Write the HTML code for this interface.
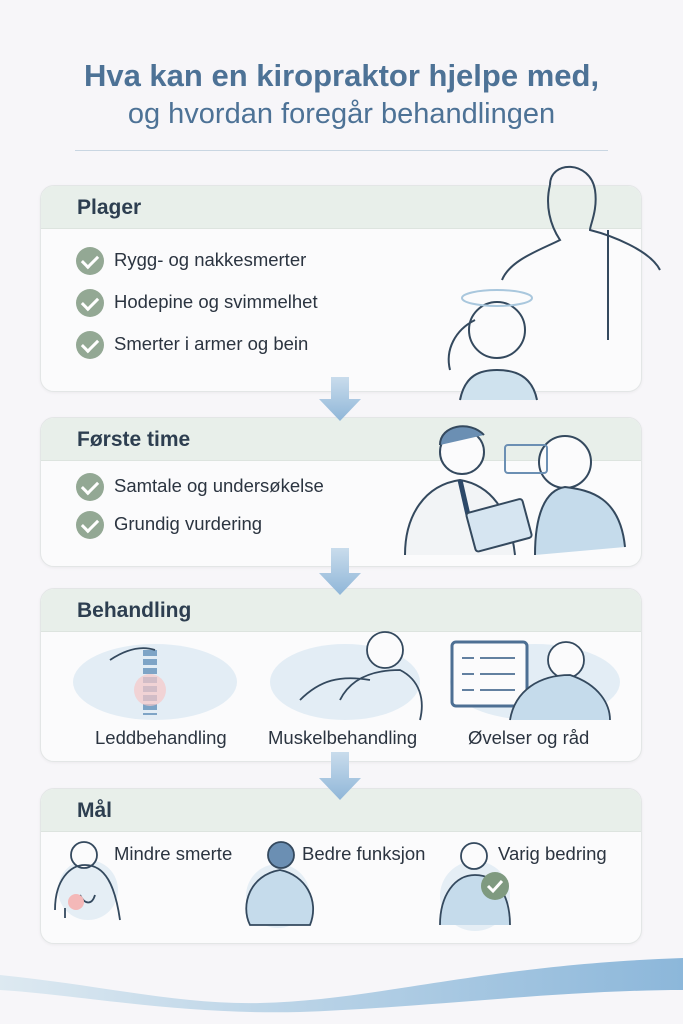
<!DOCTYPE html>
<html><head><meta charset="utf-8"><style>
body{margin:0;width:683px;height:1024px;background:#f7f6f9;font-family:"Liberation Sans",sans-serif;position:relative;overflow:hidden}
.t{position:absolute;left:0;width:683px;text-align:center;color:#4d7296}
.card{position:absolute;left:40px;width:600px;background:#fbfbfc;border:1px solid #e3e6e6;border-radius:14px;overflow:hidden;box-shadow:0 1px 3px rgba(0,0,0,.05)}
.hd{height:42px;background:#e8efea;border-bottom:1px solid #dde4df;font-size:21px;font-weight:bold;color:#2d3e50;padding-left:36px;line-height:44px}
.it{position:absolute;font-size:18.5px;color:#2b3440;line-height:20px}
.ck{position:absolute;width:28px;height:28px;border-radius:50%;background:#93a894}
.ck:after{content:"";position:absolute;left:9px;top:5px;width:7px;height:13px;border:solid #fff;border-width:0 3px 3px 0;transform:rotate(45deg)}
.lab{position:absolute;font-size:18.5px;color:#2b3440}
svg{position:absolute}
</style></head><body>
<div class="t" style="top:58px;font-size:31px;font-weight:bold">Hva kan en kiropraktor hjelpe med,</div>
<div class="t" style="top:98px;font-size:29px">og hvordan foregår behandlingen</div>
<div style="position:absolute;left:75px;top:150px;width:533px;height:1px;background:#c9d6e2"></div>

<div class="card" style="top:185px;height:205px"><div class="hd">Plager</div></div>
<div class="ck" style="left:76px;top:247px"></div><div class="it" style="left:114px;top:250px">Rygg- og nakkesmerter</div>
<div class="ck" style="left:76px;top:289px"></div><div class="it" style="left:114px;top:292px">Hodepine og svimmelhet</div>
<div class="ck" style="left:76px;top:331px"></div><div class="it" style="left:114px;top:334px">Smerter i armer og bein</div>

<div class="card" style="top:417px;height:148px"><div class="hd">Første time</div></div>
<div class="ck" style="left:76px;top:473px"></div><div class="it" style="left:114px;top:476px">Samtale og undersøkelse</div>
<div class="ck" style="left:76px;top:511px"></div><div class="it" style="left:114px;top:514px">Grundig vurdering</div>

<div class="card" style="top:588px;height:172px"><div class="hd">Behandling</div></div>
<div class="lab" style="left:95px;top:727px">Leddbehandling</div>
<div class="lab" style="left:268px;top:727px">Muskelbehandling</div>
<div class="lab" style="left:468px;top:727px">Øvelser og råd</div>

<div class="card" style="top:788px;height:154px"><div class="hd">Mål</div></div>
<div class="lab" style="left:114px;top:843px">Mindre smerte</div>
<div class="lab" style="left:302px;top:843px">Bedre funksjon</div>
<div class="lab" style="left:498px;top:843px">Varig bedring</div>

<svg width="683" height="1024" viewBox="0 0 683 1024" style="left:0;top:0">
<defs><linearGradient id="a" x1="0" y1="0" x2="0" y2="1"><stop offset="0" stop-color="#c9dcec"/><stop offset="1" stop-color="#8fb6d8"/></linearGradient>
<linearGradient id="w" x1="0" x2="1"><stop offset="0" stop-color="#dde9f1"/><stop offset="1" stop-color="#8cb7da"/></linearGradient></defs>
<g fill="url(#a)">
<path d="M331 377h18v22h12l-21 22-21-22h12z"/>
<path d="M331 548h18v25h12l-21 22-21-22h12z"/>
<path d="M331 752h18v26h12l-21 22-21-22h12z"/>
</g>
<path d="M0 975 C100 985 180 1005 260 1003 C380 1000 480 965 683 958 V990 C560 990 420 1008 300 1012 C180 1015 80 995 0 990Z" fill="url(#w)"/>
<g fill="none" stroke="#34495e" stroke-width="2">
<path d="M550 185c0-25 40-25 45 5 3 20-5 35-5 40 20 5 60 20 70 40M550 185c-5 20 0 40 10 55-20 10-50 20-58 40M608 230l0 110"/>
<circle cx="497" cy="330" r="28" fill="#fbfbfc"/>
<path d="M460 400c5-25 20-30 37-30s35 5 40 30" fill="#cfe2ee"/>
<ellipse cx="497" cy="298" rx="35" ry="8" stroke="#a9c7dd"/>
<path d="M475 320c-20 10-30 30-25 50"/>
<circle cx="462" cy="452" r="22" fill="#fbfbfc"/>
<path d="M440 445c0-20 30-25 44-10" fill="#6b8fb3"/>
<path d="M405 555c0-40 20-70 55-75 30 5 50 30 55 75" fill="#f2f4f6"/>
<path d="M460 480l8 35" stroke="#2c4868" stroke-width="5"/>
<rect x="470" y="505" width="58" height="40" rx="3" fill="#d6e5f1" transform="rotate(-15 500 525)"/>
<circle cx="565" cy="462" r="26" fill="#fbfbfc"/>
<path d="M535 555c0-40 10-65 30-68 25 3 55 10 60 60" fill="#c5dbeb"/>
<rect x="505" y="445" width="42" height="28" rx="3" stroke="#6b8fb3"/>
</g>
<g fill="none" stroke="#34495e" stroke-width="1.8">
<ellipse cx="155" cy="682" rx="82" ry="38" fill="#e3edf5" stroke="none"/>
<path d="M150 650v65" stroke="#7ea4c6" stroke-width="14" stroke-dasharray="6 3"/>
<circle cx="150" cy="690" r="16" fill="#f6c7c7" stroke="none" opacity=".7"/>
<path d="M110 660c15-10 30-15 45-10"/>
<ellipse cx="345" cy="682" rx="75" ry="38" fill="#e3edf5" stroke="none"/>
<circle cx="385" cy="650" r="18" fill="#fbfbfc"/>
<path d="M340 700c10-20 30-30 60-30 20 10 25 30 20 50M300 700c20-20 40-25 70-20"/>
<ellipse cx="535" cy="682" rx="85" ry="38" fill="#e3edf5" stroke="none"/>
<rect x="452" y="642" width="75" height="64" rx="4" fill="#fbfbfc" stroke="#4d6f93" stroke-width="3"/>
<path d="M462 658h12M480 658h35M462 674h12M480 674h35M462 690h12M480 690h35" stroke="#4d6f93"/>
<circle cx="566" cy="660" r="18" fill="#fbfbfc"/>
<path d="M510 720c5-30 30-45 60-45 30 10 40 30 40 45" fill="#c5dbeb"/>
<circle cx="88" cy="890" r="30" fill="#e5eef5" stroke="none"/>
<circle cx="84" cy="855" r="13" fill="#fbfbfc"/>
<path d="M55 910c0-30 15-45 30-45 20 0 30 20 35 55M65 918l0-10M80 895c5 10 12 10 15 0"/>
<circle cx="76" cy="902" r="8" fill="#f4b8b8" stroke="none"/>
<circle cx="278" cy="896" r="32" fill="#e5eef5" stroke="none"/>
<circle cx="281" cy="855" r="13" fill="#6b8fb3"/>
<path d="M250 925c-10-20 0-50 30-55 25 5 40 30 30 55Z" fill="#c5dbeb"/>
<circle cx="475" cy="896" r="35" fill="#e5eef5" stroke="none"/>
<circle cx="474" cy="856" r="13" fill="#fbfbfc"/>
<path d="M440 925c0-30 15-50 35-50 25 0 35 25 35 50" fill="#c5dbeb"/>
<circle cx="495" cy="886" r="14" fill="#7f9a80" stroke="none"/>
<path d="M488 886l5 5 9-10" stroke="#fff" stroke-width="3"/>
</g>
</svg>
</body></html>
